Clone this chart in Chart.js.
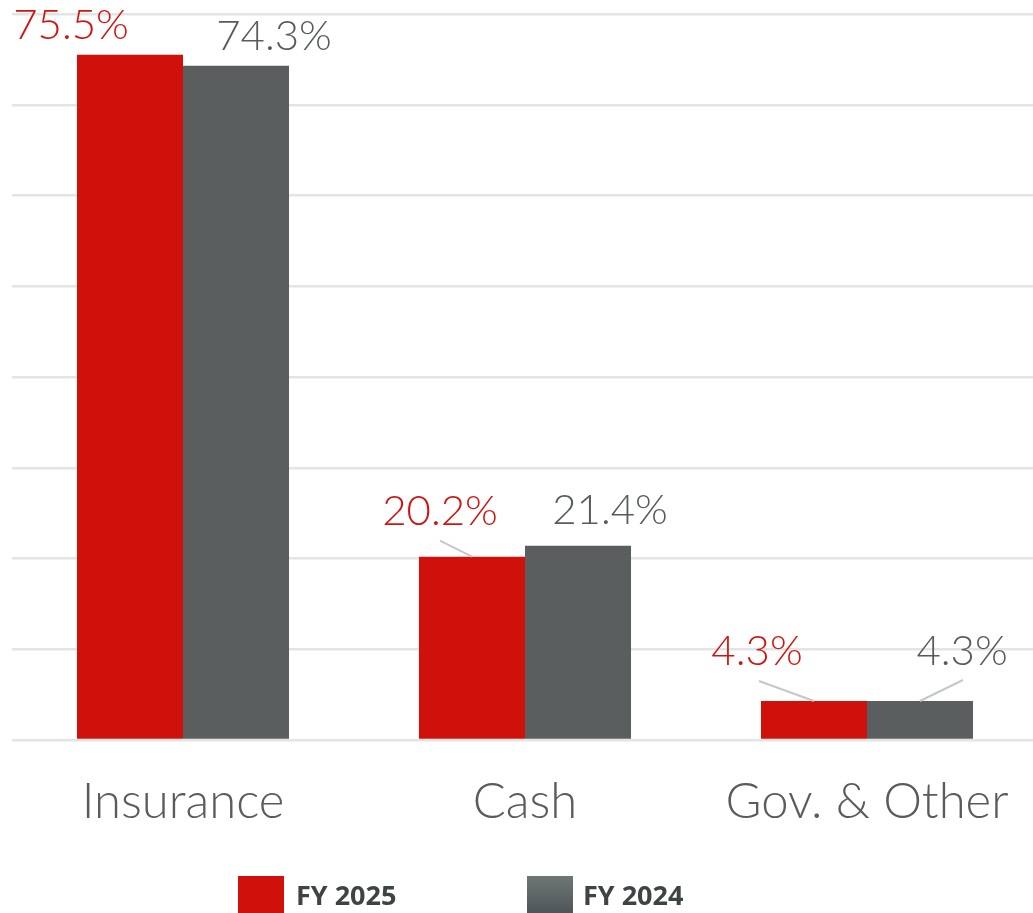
<!DOCTYPE html>
<html>
<head>
<meta charset="utf-8">
<script src="https://cdn.jsdelivr.net/npm/chart.js@4.4.1/dist/chart.umd.min.js"></script>
<style>
  html, body { margin: 0; padding: 0; background: #fff; overflow: hidden; }
  #wrap { position: relative; width: 1040px; height: 913px; }
  .key { position: absolute; top: 876px; width: 46px; height: 40px; }
  .key-label { position: absolute; top: 876px; font: bold 27px "Open Sans", sans-serif; color: #3e4446; line-height: normal; }
</style>
</head>
<body>
<div id="wrap">
  <canvas id="mixChart" width="1040" height="913"></canvas>
  <div class="key" style="left:238px;background:#d0100a"></div>
  <span class="key-label" style="left:296px">FY 2025</span>
  <div class="key" style="left:527px;background:linear-gradient(#6e7676,#4d5354)"></div>
  <span class="key-label" style="left:583px">FY 2024</span>
</div>
<script>
var categories = ["Insurance", "Cash", "Gov. & Other"]
var fy2025 = [75.5, 20.2, 4.3]
var fy2024 = [74.3, 21.4, 4.3]

var red = "#d0100a"
var grey = "#5a5e5f"

// where each value label sits relative to the top centre of its bar,
// plus an optional leader line back to the bar
var labelPlacement = [
  [ { dx: -59, dy: -16 }, { dx: -32, dy: -32, line: [-32, -16] }, { dx: -57, dy: -36, line: [-55, -20] } ],
  [ { dx: 38, dy: -16 }, { dx: 32, dy: -22 }, { dx: 42, dy: -36, line: [43, -21] } ]
]

var valueLabels = {
  id: "valueLabels",
  afterDatasetsDraw(chart) {
    var ctx = chart.ctx
    ctx.save()
    chart.data.datasets.forEach(function (ds, di) {
      chart.getDatasetMeta(di).data.forEach(function (bar, i) {
        var p = labelPlacement[di][i]
        if (p.line) {
          ctx.strokeStyle = "#c4c8c8"
          ctx.lineWidth = 2
          ctx.beginPath()
          ctx.moveTo(bar.x + p.line[0], bar.y + p.line[1])
          ctx.lineTo(bar.x, bar.y)
          ctx.stroke()
        }
        ctx.fillStyle = di === 0 ? "#d0150f" : "#565b5c"
        ctx.font = "300 42px Lato, sans-serif"
        ctx.textAlign = "center"
        ctx.textBaseline = "alphabetic"
        ctx.fillText(ds.data[i].toFixed(1) + "%", bar.x + p.dx, bar.y + p.dy)
      })
    })
    ctx.restore()
  }
}

var chart = new Chart(document.getElementById("mixChart"), {
  type: "bar",
  data: {
    labels: categories,
    datasets: [
      { label: "FY 2025", data: fy2025, backgroundColor: red },
      { label: "FY 2024", data: fy2024, backgroundColor: grey }
    ]
  },
  options: {
    responsive: false,
    animation: false,
    categoryPercentage: 0.62,
    barPercentage: 1,
    layout: { padding: { left: 12, right: 2, top: 14, bottom: 0 } },
    plugins: {
      legend: { display: false },
      tooltip: { enabled: false }
    },
    scales: {
      x: {
        grid: { display: false },
        border: { display: false },
        ticks: {
          color: "#5b5b5b",
          padding: 25,
          font: { family: "Lato", size: 49, weight: 300 }
        },
        afterFit: function (scale) { scale.height = 173 }
      },
      y: {
        min: 0,
        max: 80,
        border: { display: false },
        grid: { color: "#e4e4e4", lineWidth: 2.5, drawTicks: false },
        ticks: { display: false, stepSize: 10 }
      }
    }
  },
  plugins: [valueLabels]
})
</script>
</body>
</html>
